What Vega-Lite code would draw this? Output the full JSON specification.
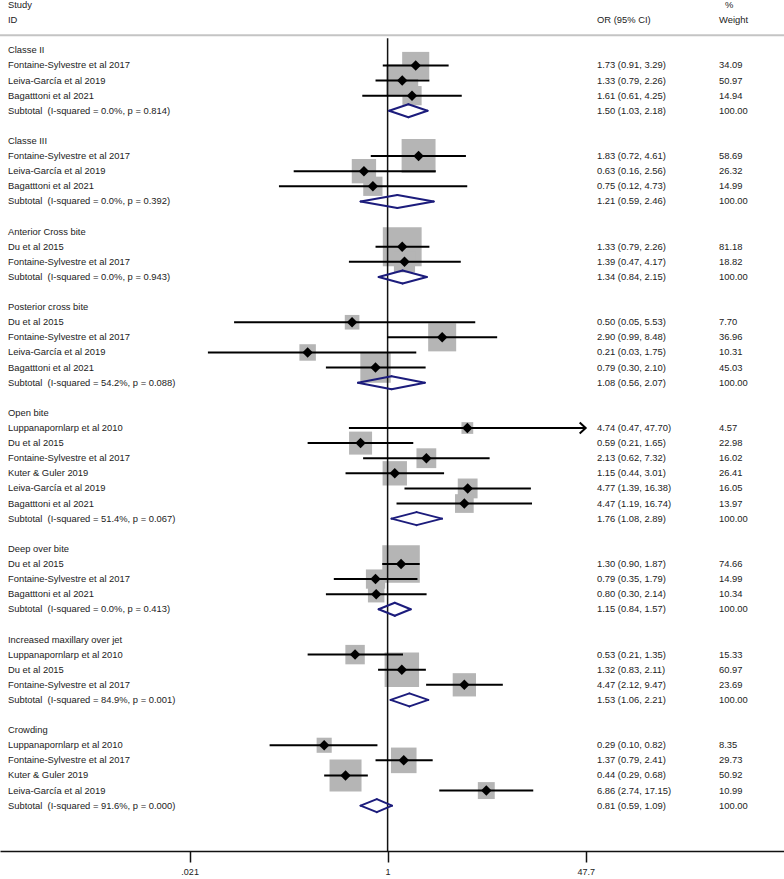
{
  "$schema": "https://vega.github.io/schema/vega-lite/v6.json",
  "width": 784,
  "height": 851,
  "autosize": {"type": "none"},
  "padding": {"left": 0, "top": 0, "right": 0, "bottom": 28},
  "config": {"view": {"stroke": null}, "font": "Liberation Sans", "text": {"font": "Liberation Sans"}},
  "datasets": {
    "rows": [
      {"k": "r0", "kind": "g", "label": "Classe II"},
      {"k": "r1", "kind": "s", "label": "Fontaine-Sylvestre et al 2017", "or": 1.73, "lo": 0.91, "hi": 3.29, "w": 34.09},
      {"k": "r2", "kind": "s", "label": "Leiva-García et al 2019", "or": 1.33, "lo": 0.79, "hi": 2.26, "w": 50.97},
      {"k": "r3", "kind": "s", "label": "Bagatttoni et al 2021", "or": 1.61, "lo": 0.61, "hi": 4.25, "w": 14.94},
      {"k": "r4", "kind": "t", "label": "Subtotal\u00a0 (I-squared = 0.0%, p = 0.814)", "or": 1.50, "lo": 1.03, "hi": 2.18, "w": 100},
      {"k": "r6", "kind": "g", "label": "Classe III"},
      {"k": "r7", "kind": "s", "label": "Fontaine-Sylvestre et al 2017", "or": 1.83, "lo": 0.72, "hi": 4.61, "w": 58.69},
      {"k": "r8", "kind": "s", "label": "Leiva-García et al 2019", "or": 0.63, "lo": 0.16, "hi": 2.56, "w": 26.32},
      {"k": "r9", "kind": "s", "label": "Bagatttoni et al 2021", "or": 0.75, "lo": 0.12, "hi": 4.73, "w": 14.99},
      {"k": "r10", "kind": "t", "label": "Subtotal\u00a0 (I-squared = 0.0%, p = 0.392)", "or": 1.21, "lo": 0.59, "hi": 2.46, "w": 100},
      {"k": "r12", "kind": "g", "label": "Anterior Cross bite"},
      {"k": "r13", "kind": "s", "label": "Du et al 2015", "or": 1.33, "lo": 0.79, "hi": 2.26, "w": 81.18},
      {"k": "r14", "kind": "s", "label": "Fontaine-Sylvestre et al 2017", "or": 1.39, "lo": 0.47, "hi": 4.17, "w": 18.82},
      {"k": "r15", "kind": "t", "label": "Subtotal\u00a0 (I-squared = 0.0%, p = 0.943)", "or": 1.34, "lo": 0.84, "hi": 2.15, "w": 100},
      {"k": "r17", "kind": "g", "label": "Posterior cross bite"},
      {"k": "r18", "kind": "s", "label": "Du et al 2015", "or": 0.50, "lo": 0.05, "hi": 5.53, "w": 7.70},
      {"k": "r19", "kind": "s", "label": "Fontaine-Sylvestre et al 2017", "or": 2.90, "lo": 0.99, "hi": 8.48, "w": 36.96},
      {"k": "r20", "kind": "s", "label": "Leiva-García et al 2019", "or": 0.21, "lo": 0.03, "hi": 1.75, "w": 10.31},
      {"k": "r21", "kind": "s", "label": "Bagatttoni et al 2021", "or": 0.79, "lo": 0.30, "hi": 2.10, "w": 45.03},
      {"k": "r22", "kind": "t", "label": "Subtotal\u00a0 (I-squared = 54.2%, p = 0.088)", "or": 1.08, "lo": 0.56, "hi": 2.07, "w": 100},
      {"k": "r24", "kind": "g", "label": "Open bite"},
      {"k": "r25", "kind": "s", "label": "Luppanapornlarp et al 2010", "or": 4.74, "lo": 0.47, "hi": 47.70, "w": 4.57},
      {"k": "r26", "kind": "s", "label": "Du et al 2015", "or": 0.59, "lo": 0.21, "hi": 1.65, "w": 22.98},
      {"k": "r27", "kind": "s", "label": "Fontaine-Sylvestre et al 2017", "or": 2.13, "lo": 0.62, "hi": 7.32, "w": 16.02},
      {"k": "r28", "kind": "s", "label": "Kuter & Guler 2019", "or": 1.15, "lo": 0.44, "hi": 3.01, "w": 26.41},
      {"k": "r29", "kind": "s", "label": "Leiva-García et al 2019", "or": 4.77, "lo": 1.39, "hi": 16.38, "w": 16.05},
      {"k": "r30", "kind": "s", "label": "Bagatttoni et al 2021", "or": 4.47, "lo": 1.19, "hi": 16.74, "w": 13.97},
      {"k": "r31", "kind": "t", "label": "Subtotal\u00a0 (I-squared = 51.4%, p = 0.067)", "or": 1.76, "lo": 1.08, "hi": 2.89, "w": 100},
      {"k": "r33", "kind": "g", "label": "Deep over bite"},
      {"k": "r34", "kind": "s", "label": "Du et al 2015", "or": 1.30, "lo": 0.90, "hi": 1.87, "w": 74.66},
      {"k": "r35", "kind": "s", "label": "Fontaine-Sylvestre et al 2017", "or": 0.79, "lo": 0.35, "hi": 1.79, "w": 14.99},
      {"k": "r36", "kind": "s", "label": "Bagatttoni et al 2021", "or": 0.80, "lo": 0.30, "hi": 2.14, "w": 10.34},
      {"k": "r37", "kind": "t", "label": "Subtotal\u00a0 (I-squared = 0.0%, p = 0.413)", "or": 1.15, "lo": 0.84, "hi": 1.57, "w": 100},
      {"k": "r39", "kind": "g", "label": "Increased maxillary over jet"},
      {"k": "r40", "kind": "s", "label": "Luppanapornlarp et al 2010", "or": 0.53, "lo": 0.21, "hi": 1.35, "w": 15.33},
      {"k": "r41", "kind": "s", "label": "Du et al 2015", "or": 1.32, "lo": 0.83, "hi": 2.11, "w": 60.97},
      {"k": "r42", "kind": "s", "label": "Fontaine-Sylvestre et al 2017", "or": 4.47, "lo": 2.12, "hi": 9.47, "w": 23.69},
      {"k": "r43", "kind": "t", "label": "Subtotal\u00a0 (I-squared = 84.9%, p = 0.001)", "or": 1.53, "lo": 1.06, "hi": 2.21, "w": 100},
      {"k": "r45", "kind": "g", "label": "Crowding"},
      {"k": "r46", "kind": "s", "label": "Luppanapornlarp et al 2010", "or": 0.29, "lo": 0.10, "hi": 0.82, "w": 8.35},
      {"k": "r47", "kind": "s", "label": "Fontaine-Sylvestre et al 2017", "or": 1.37, "lo": 0.79, "hi": 2.41, "w": 29.73},
      {"k": "r48", "kind": "s", "label": "Kuter & Guler 2019", "or": 0.44, "lo": 0.29, "hi": 0.68, "w": 50.92},
      {"k": "r49", "kind": "s", "label": "Leiva-García et al 2019", "or": 6.86, "lo": 2.74, "hi": 17.15, "w": 10.99},
      {"k": "r50", "kind": "t", "label": "Subtotal\u00a0 (I-squared = 91.6%, p = 0.000)", "or": 0.81, "lo": 0.59, "hi": 1.09, "w": 100}
    ],
    "head": [
      {"k": "h1", "t": "Study", "c": "a"},
      {"k": "h2", "t": "ID", "c": "a"},
      {"k": "h2", "t": "OR (95% CI)", "c": "b"},
      {"k": "h1", "t": "%", "c": "d"},
      {"k": "h2", "t": "Weight", "c": "c"}
    ]
  },
  "data": {"name": "rows"},
  "encoding": {
    "y": {
      "field": "k",
      "type": "nominal",
      "axis": null,
      "scale": {
        "type": "point",
        "padding": 0,
        "range": [5, 851],
        "domain": ["h1", "h2", "hl", "r0", "r1", "r2", "r3", "r4", "r5", "r6", "r7", "r8", "r9", "r10", "r11", "r12", "r13", "r14", "r15", "r16", "r17", "r18", "r19", "r20", "r21", "r22", "r23", "r24", "r25", "r26", "r27", "r28", "r29", "r30", "r31", "r32", "r33", "r34", "r35", "r36", "r37", "r38", "r39", "r40", "r41", "r42", "r43", "r44", "r45", "r46", "r47", "r48", "r49", "r50", "b1", "b2", "b3"]
      }
    }
  },
  "layer": [
    {
      "data": {"values": [{"one": 1}]},
      "mark": {"type": "rule", "color": "#c4c4c4", "strokeWidth": 2},
      "encoding": {"y": {"datum": "hl", "type": "nominal", "axis": null}}
    },
    {
      "transform": [{"filter": "datum.kind === 's'"}],
      "mark": {"type": "point", "shape": "square", "filled": true, "color": "#b5b5b5", "opacity": 1, "strokeWidth": 0},
      "encoding": {
        "x": {
          "field": "or", "type": "quantitative", "title": null,
          "scale": {"type": "log", "domain": [0.000519, 2287], "nice": false},
          "axis": {"values": [0.021, 1, 47.7], "labelExpr": "datum.value < 0.5 ? '.021' : (datum.value > 10 ? '47.7' : '1')", "grid": false, "domainColor": "#111111", "domainWidth": 1.5, "tickColor": "#111111", "tickWidth": 1.5, "tickSize": 11, "labelFontSize": 9, "labelColor": "#222222", "labelFont": "Liberation Sans", "labelPadding": 5, "labelFlush": false, "labelOverlap": false}
        },
        "size": {"field": "w", "type": "quantitative", "legend": null, "scale": {"type": "pow", "exponent": 0.83, "domain": [0, 100], "range": [0, 1792]}}
      }
    },
    {
      "data": {"values": [{"one": 1}]},
      "mark": {"type": "rule", "color": "#111111", "strokeWidth": 1.5, "yOffset": 3},
      "encoding": {
        "x": {
          "datum": 1, "type": "quantitative", "title": null,
          "scale": {"type": "log", "domain": [0.000519, 2287], "nice": false},
          "axis": {"values": [0.021, 1, 47.7], "labelExpr": "datum.value < 0.5 ? '.021' : (datum.value > 10 ? '47.7' : '1')", "grid": false, "domainColor": "#111111", "domainWidth": 1.5, "tickColor": "#111111", "tickWidth": 1.5, "tickSize": 11, "labelFontSize": 9, "labelColor": "#222222", "labelFont": "Liberation Sans", "labelPadding": 5, "labelFlush": false, "labelOverlap": false}
        },
        "y": {"datum": "hl", "type": "nominal", "axis": null},
        "y2": {"datum": "b3"}
      }
    },
    {
      "transform": [{"filter": "datum.kind === 's'"}],
      "mark": {"type": "rule", "color": "#000000", "strokeWidth": 2},
      "encoding": {
        "x": {
          "field": "lo", "type": "quantitative", "title": null,
          "scale": {"type": "log", "domain": [0.000519, 2287], "nice": false},
          "axis": {"values": [0.021, 1, 47.7], "labelExpr": "datum.value < 0.5 ? '.021' : (datum.value > 10 ? '47.7' : '1')", "grid": false, "domainColor": "#111111", "domainWidth": 1.5, "tickColor": "#111111", "tickWidth": 1.5, "tickSize": 11, "labelFontSize": 9, "labelColor": "#222222", "labelFont": "Liberation Sans", "labelPadding": 5, "labelFlush": false, "labelOverlap": false}
        },
        "x2": {"field": "hi"}
      }
    },
    {
      "transform": [{"filter": "datum.kind === 's' && datum.hi >= 47.7"}],
      "mark": {"type": "point", "shape": "M-1,-0.9L0,0L-1,0.9", "filled": false, "stroke": "#000000", "strokeWidth": 2, "size": 144, "opacity": 1},
      "encoding": {
        "x": {"field": "hi", "type": "quantitative", "title": null, "scale": {"type": "log", "domain": [0.000519, 2287], "nice": false}}
      }
    },
    {
      "transform": [{"filter": "datum.kind === 's'"}],
      "mark": {"type": "point", "shape": "diamond", "filled": true, "color": "#000000", "opacity": 1, "size": 110, "strokeWidth": 0},
      "encoding": {
        "x": {"field": "or", "type": "quantitative", "title": null, "scale": {"type": "log", "domain": [0.000519, 2287], "nice": false}}
      }
    },
    {
      "transform": [{"filter": "datum.kind === 't'"}],
      "mark": {"type": "rule", "color": "#1c1c7c", "strokeWidth": 2, "strokeCap": "round", "y2Offset": -6.5},
      "encoding": {
        "x": {"field": "lo", "type": "quantitative", "title": null, "scale": {"type": "log", "domain": [0.000519, 2287], "nice": false}},
        "x2": {"field": "or"},
        "y2": {"field": "k"}
      }
    },
    {
      "transform": [{"filter": "datum.kind === 't'"}],
      "mark": {"type": "rule", "color": "#1c1c7c", "strokeWidth": 2, "strokeCap": "round", "yOffset": -6.5},
      "encoding": {
        "x": {"field": "or", "type": "quantitative", "title": null, "scale": {"type": "log", "domain": [0.000519, 2287], "nice": false}},
        "x2": {"field": "hi"},
        "y2": {"field": "k"}
      }
    },
    {
      "transform": [{"filter": "datum.kind === 't'"}],
      "mark": {"type": "rule", "color": "#1c1c7c", "strokeWidth": 2, "strokeCap": "round", "y2Offset": 6.5},
      "encoding": {
        "x": {"field": "lo", "type": "quantitative", "title": null, "scale": {"type": "log", "domain": [0.000519, 2287], "nice": false}},
        "x2": {"field": "or"},
        "y2": {"field": "k"}
      }
    },
    {
      "transform": [{"filter": "datum.kind === 't'"}],
      "mark": {"type": "rule", "color": "#1c1c7c", "strokeWidth": 2, "strokeCap": "round", "yOffset": 6.5},
      "encoding": {
        "x": {"field": "or", "type": "quantitative", "title": null, "scale": {"type": "log", "domain": [0.000519, 2287], "nice": false}},
        "x2": {"field": "hi"},
        "y2": {"field": "k"}
      }
    },
    {
      "mark": {"type": "text", "align": "left", "baseline": "middle", "fontSize": 9.4, "color": "#222222", "font": "Liberation Sans"},
      "encoding": {
        "x": {"value": 8},
        "text": {"field": "label"}
      }
    },
    {
      "transform": [
        {"filter": "datum.kind !== 'g'"},
        {"calculate": "format(datum.or, '.2f') + ' (' + format(datum.lo, '.2f') + ', ' + format(datum.hi, '.2f') + ')'", "as": "ci"}
      ],
      "mark": {"type": "text", "align": "left", "baseline": "middle", "fontSize": 9.4, "color": "#222222", "font": "Liberation Sans"},
      "encoding": {
        "x": {"value": 597},
        "text": {"field": "ci"}
      }
    },
    {
      "transform": [{"filter": "datum.kind !== 'g'"}],
      "mark": {"type": "text", "align": "left", "baseline": "middle", "fontSize": 9.4, "color": "#222222", "font": "Liberation Sans"},
      "encoding": {
        "x": {"value": 719},
        "text": {"field": "w", "type": "quantitative", "format": ".2f"}
      }
    },
    {
      "data": {"name": "head"},
      "transform": [{"filter": "datum.c === 'a'"}],
      "mark": {"type": "text", "align": "left", "baseline": "middle", "fontSize": 9.4, "color": "#222222", "font": "Liberation Sans"},
      "encoding": {"x": {"value": 8}, "text": {"field": "t"}}
    },
    {
      "data": {"name": "head"},
      "transform": [{"filter": "datum.c === 'b'"}],
      "mark": {"type": "text", "align": "left", "baseline": "middle", "fontSize": 9.4, "color": "#222222", "font": "Liberation Sans"},
      "encoding": {"x": {"value": 597}, "text": {"field": "t"}}
    },
    {
      "data": {"name": "head"},
      "transform": [{"filter": "datum.c === 'c'"}],
      "mark": {"type": "text", "align": "left", "baseline": "middle", "fontSize": 9.4, "color": "#222222", "font": "Liberation Sans"},
      "encoding": {"x": {"value": 719}, "text": {"field": "t"}}
    },
    {
      "data": {"name": "head"},
      "transform": [{"filter": "datum.c === 'd'"}],
      "mark": {"type": "text", "align": "left", "baseline": "middle", "fontSize": 9.4, "color": "#222222", "font": "Liberation Sans"},
      "encoding": {"x": {"value": 725}, "text": {"field": "t"}}
    }
  ]
}
